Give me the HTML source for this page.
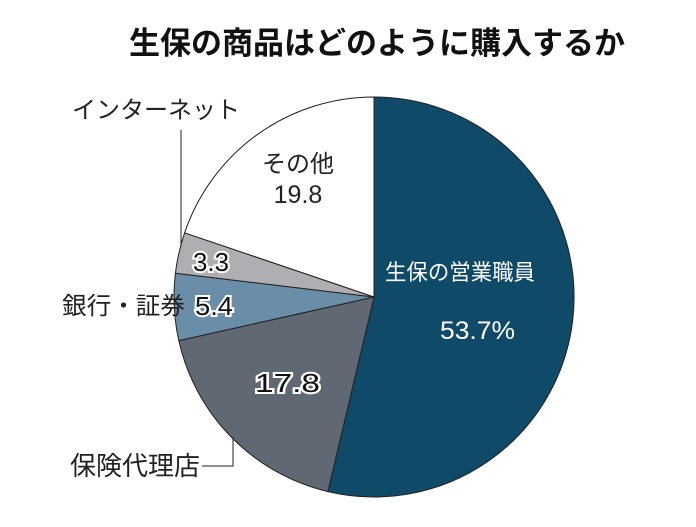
<!DOCTYPE html>
<html><head><meta charset="utf-8"><style>
html,body{margin:0;padding:0;background:#fff;}
svg text{font-family:"Liberation Sans","Noto Sans CJK JP",sans-serif;}
</style></head><body>
<svg width="696" height="522" viewBox="0 0 696 522" xmlns="http://www.w3.org/2000/svg">
<rect width="696" height="522" fill="#fff"/>
<text x="377" y="54" text-anchor="middle" font-size="31" font-weight="bold" fill="#111">生保の商品はどのように購入するか</text>
<g stroke="#222" stroke-width="1">
<path d="M374,297 L374,97 A200,200 0 1,1 327.9,491.6 Z" fill="#0f4a68"/>
<path d="M374,297 L327.9,491.6 A200,200 0 0,1 178.8,340.6 Z" fill="#5f6873"/>
<path d="M374,297 L178.8,340.6 A200,200 0 0,1 175.4,273.2 Z" fill="#6b8ea8"/>
<path d="M374,297 L175.4,273.2 A200,200 0 0,1 184.6,232.8 Z" fill="#aeaeb3"/>
<path d="M374,297 L184.6,232.8 A200,200 0 0,1 374,97 Z" fill="#fff"/>
<polyline points="181,130 181,246" fill="none"/>
<polyline points="202,466 233,466 233,437" fill="none"/>
</g>
<g font-size="24" fill="#222">
<text x="72" y="118" textLength="168" lengthAdjust="spacingAndGlyphs">インターネット</text>
<text x="62" y="314" textLength="123" lengthAdjust="spacingAndGlyphs">銀行・証券</text>
<text x="70" y="475" font-size="26" textLength="130" lengthAdjust="spacingAndGlyphs">保険代理店</text>
<text x="298" y="172" text-anchor="middle">その他</text>
<text x="298" y="203" text-anchor="middle" font-size="25">19.8</text>
</g>
<g font-size="26" fill="#111" stroke="#fff" stroke-width="4" paint-order="stroke">
<text x="193" y="271" textLength="36" lengthAdjust="spacingAndGlyphs">3.3</text>
<text x="195" y="315" textLength="38" lengthAdjust="spacingAndGlyphs">5.4</text>
<text x="255" y="392" textLength="65" lengthAdjust="spacingAndGlyphs">17.8</text>
</g>
<g font-size="22" fill="#fff">
<text x="385" y="280" textLength="150" lengthAdjust="spacingAndGlyphs">生保の営業職員</text>
<text x="440" y="339" font-size="25" textLength="75" lengthAdjust="spacingAndGlyphs">53.7%</text>
</g>
</svg>
</body></html>
